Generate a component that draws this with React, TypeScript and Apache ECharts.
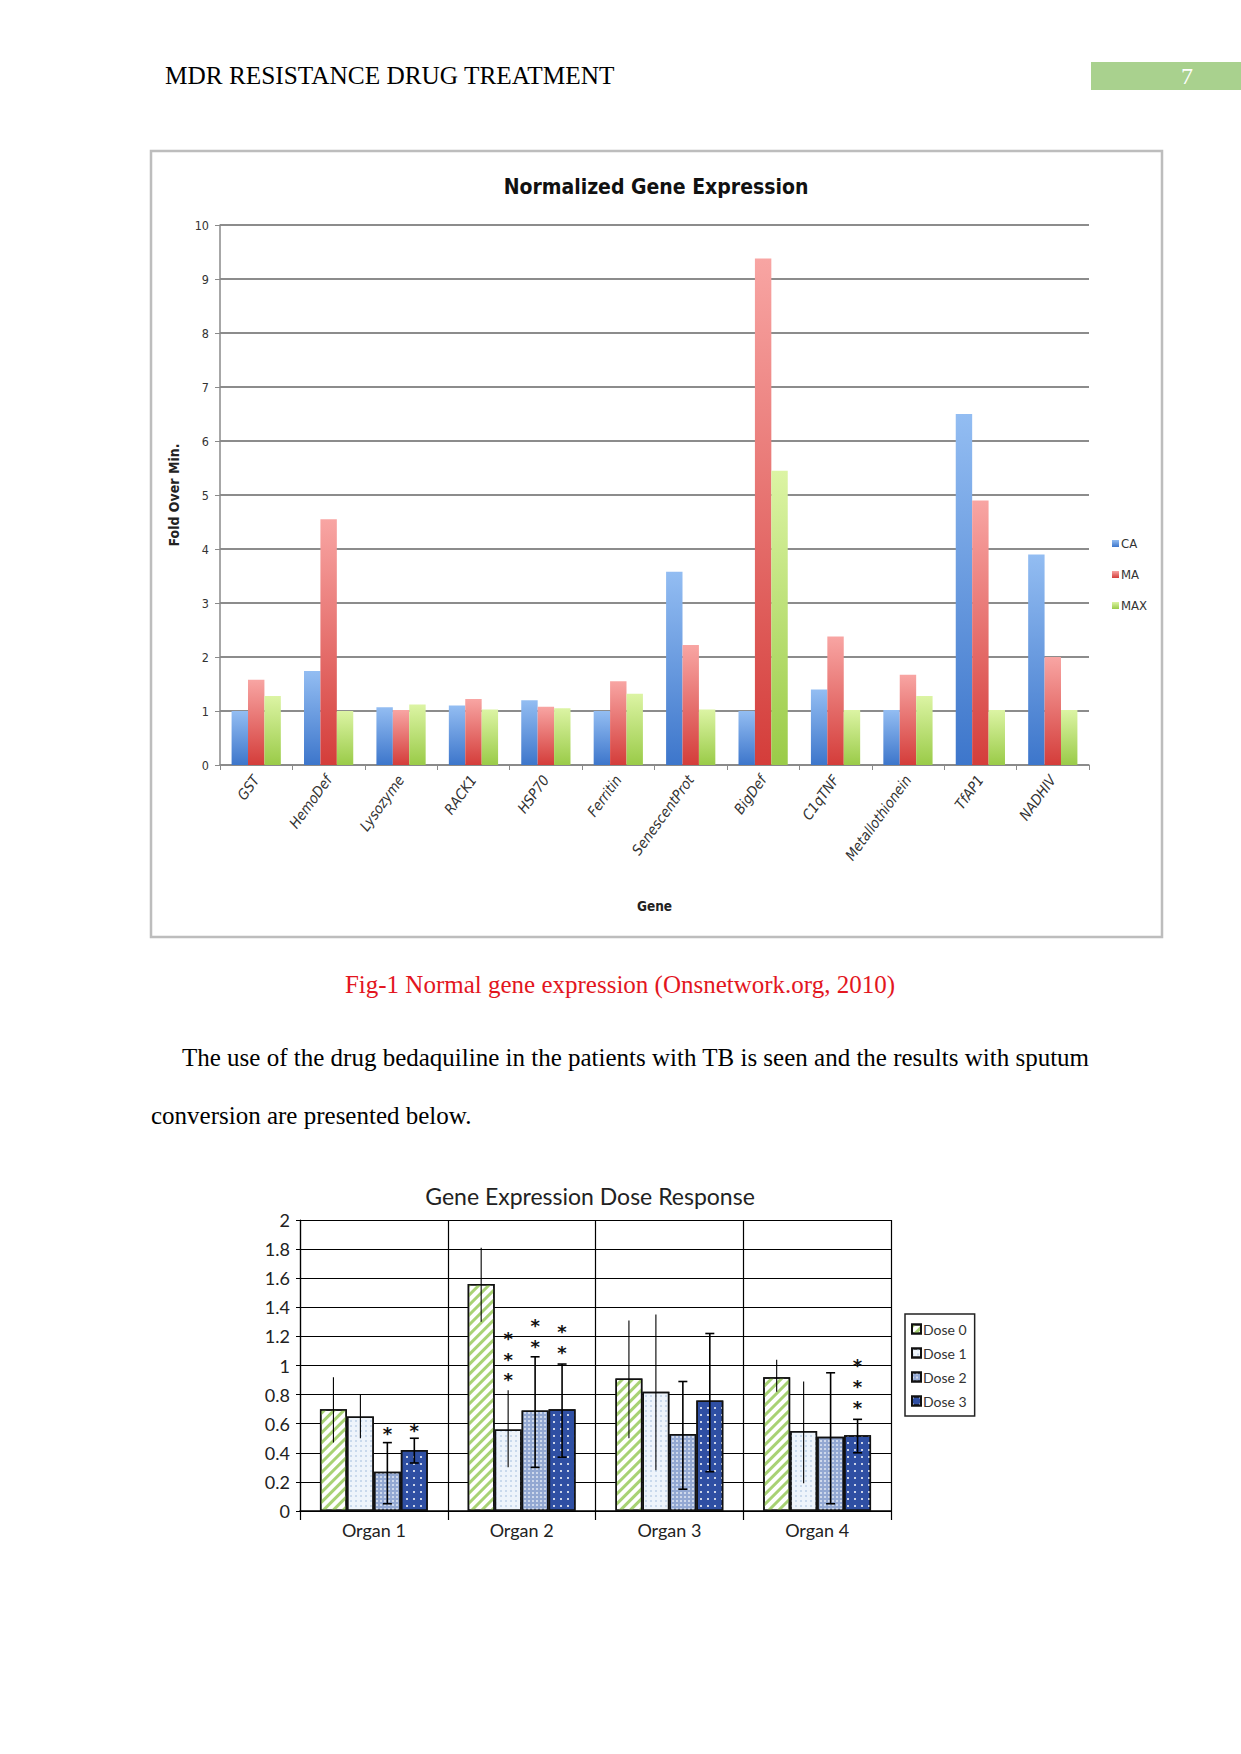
import React, { useEffect, useRef } from "react";
import * as echarts from "echarts";

// ---------- Chart 1 data ----------
const genes = ["GST", "HemoDef", "Lysozyme", "RACK1", "HSP70", "Ferritin", "SenescentProt", "BigDef", "C1qTNF", "Metallothionein", "TfAP1", "NADHIV"];
const caValues = [1.0, 1.74, 1.07, 1.1, 1.2, 1.0, 3.58, 1.0, 1.4, 1.02, 6.5, 3.9];
const maValues = [1.58, 4.55, 1.02, 1.22, 1.08, 1.55, 2.22, 9.38, 2.38, 1.67, 4.9, 2.0];
const maxValues = [1.28, 1.0, 1.12, 1.03, 1.05, 1.32, 1.03, 5.45, 1.02, 1.28, 1.02, 1.02];

// ---------- Chart 2 data ----------
const organs = ["Organ 1", "Organ 2", "Organ 3", "Organ 4"];
const doseNames = ["Dose 0", "Dose 1", "Dose 2", "Dose 3"];
const dose0 = [0.7, 1.56, 0.91, 0.92];
const dose1 = [0.65, 0.56, 0.82, 0.55];
const dose2 = [0.27, 0.69, 0.53, 0.51];
const dose3 = [0.42, 0.7, 0.76, 0.52];
const dose0Low = [0.47, 1.3, 0.5, 0.82];
const dose0High = [0.92, 1.81, 1.31, 1.04];
const dose1Low = [0.5, 0.3, 0.28, 0.19];
const dose1High = [0.8, 0.83, 1.35, 0.89];
const dose2Low = [0.05, 0.3, 0.15, 0.05];
const dose2High = [0.47, 1.06, 0.89, 0.95];
const dose3Low = [0.33, 0.37, 0.27, 0.4];
const dose3High = [0.5, 1.01, 1.22, 0.63];
// significance asterisks: [organ index, value position]
const starsDose1 = [[1, 1.21], [1, 1.07], [1, 0.93]];
const starsDose2 = [[0, 0.56], [1, 1.3], [1, 1.16]];
const starsDose3 = [[0, 0.58], [1, 1.26], [1, 1.12], [3, 1.03], [3, 0.88], [3, 0.74]];

const FONT_SERIF = "'Liberation Serif', 'Times New Roman', serif";
const FONT_NARROW = "'Liberation Sans Narrow', 'DejaVu Sans Condensed', Lato, sans-serif";
const FONT2 = "Lato, 'Open Sans', sans-serif";

const BAR_GAP2 = 0.27;

export default function App() {
  const ref = useRef<HTMLDivElement>(null);

  useEffect(() => {
    const chart = echarts.init(ref.current!, null, { renderer: "svg" });
    const grad = (top: string, bottom: string) =>
      new echarts.graphic.LinearGradient(0, 0, 0, 1, [
        { offset: 0, color: top },
        { offset: 1, color: bottom },
      ]);

    const lows = [dose0Low, dose1Low, dose2Low, dose3Low];
    const highs = [dose0High, dose1High, dose2High, dose3High];
    const errData: number[][] = [];
    lows.forEach((arr, d) => arr.forEach((lo, i) => errData.push([i, lo, highs[d][i], d])));
    const starData: number[][] = [];
    [[], starsDose1, starsDose2, starsDose3].forEach((arr, d) =>
      (arr as number[][]).forEach((s) => starData.push([s[0], s[1], d]))
    );

    const doseStyles = [
      {
        color: "#ffffff",
        decal: { symbol: "rect", symbolSize: 1, color: "#a8d274", dashArrayX: [1, 0], dashArrayY: [3, 4], rotation: -Math.PI / 4 },
      },
      {
        color: "#eef4fb",
        decal: { symbol: "rect", symbolSize: 1, color: "#c9d9ec", dashArrayX: [2, 3], dashArrayY: [2, 3], rotation: 0 },
      },
      {
        color: "#93a8d2",
        decal: { symbol: "rect", symbolSize: 1, color: "rgba(255,255,255,0.55)", dashArrayX: [2, 2], dashArrayY: [2, 2], rotation: 0 },
      },
      {
        color: "#2f4fa3",
        decal: { symbol: "rect", symbolSize: 1, color: "rgba(255,255,255,0.75)", dashArrayX: [2, 5], dashArrayY: [2, 5], rotation: 0 },
      },
    ];
    const doseData = [dose0, dose1, dose2, dose3];

    const barOffset = (api: any, d: number) => {
      const band = api.size([1, 0])[0];
      const w = (band * (1 - BAR_GAP2)) / 4;
      return (d - 1.5) * w;
    };

    const option: any = {
      animation: false,
      backgroundColor: "#ffffff",
      grid: [
        { left: 220, top: 225, width: 869, height: 540 },
        { left: 300, top: 1220, width: 591, height: 291 },
      ],
      legend: [
        {
          data: ["CA", "MA", "MAX"],
          orient: "vertical",
          left: 1107,
          top: 532,
          itemWidth: 7,
          itemHeight: 7,
          itemGap: 18,
          icon: "rect",
          textStyle: { fontSize: 13, fontFamily: FONT_NARROW, color: "#333", padding: [0, 0, 0, -3] },
        },
        {
          data: doseNames,
          orient: "vertical",
          left: 905,
          top: 1314,
          itemWidth: 9,
          itemHeight: 9,
          itemGap: 10,
          icon: "rect",
          borderColor: "#222",
          borderWidth: 1.5,
          padding: [8, 8, 8, 6],
          textStyle: { fontSize: 14, fontFamily: FONT2, color: "#333", padding: [0, 0, 0, -3] },
        },
      ],
      xAxis: [
        {
          gridIndex: 0,
          type: "category",
          data: genes,
          axisLine: { lineStyle: { color: "#8a8a8a", width: 1.5 } },
          axisTick: { show: true, length: 5, lineStyle: { color: "#8a8a8a" } },
          axisLabel: { rotate: 54, interval: 0, margin: 12, fontSize: 14.5, fontStyle: "italic", fontFamily: FONT_NARROW, color: "#333" },
          name: "Gene",
          nameLocation: "middle",
          nameGap: 134,
          nameTextStyle: { fontSize: 13.5, fontWeight: "bold", fontFamily: FONT_NARROW, color: "#222" },
        },
        {
          gridIndex: 1,
          type: "category",
          data: organs,
          axisLine: { lineStyle: { color: "#000", width: 1.5 } },
          axisTick: { show: true, length: 9, lineStyle: { color: "#000", width: 1.2 } },
          splitLine: { show: true, lineStyle: { color: "#000", width: 1.2 } },
          axisLabel: { fontSize: 18, fontFamily: FONT2, color: "#222", margin: 10 },
        },
      ],
      yAxis: [
        {
          gridIndex: 0,
          type: "value",
          min: 0,
          max: 10,
          interval: 1,
          axisLine: { show: true, lineStyle: { color: "#8a8a8a", width: 1.5 } },
          axisTick: { show: true, length: 5, lineStyle: { color: "#8a8a8a" } },
          splitLine: { lineStyle: { color: "#8c8c8c", width: 2 } },
          axisLabel: { fontSize: 12.5, fontFamily: FONT_NARROW, color: "#333", margin: 11 },
          name: "Fold Over Min.",
          nameLocation: "middle",
          nameGap: 39,
          nameTextStyle: { fontSize: 14, fontWeight: "bold", fontFamily: FONT_NARROW, color: "#222" },
        },
        {
          gridIndex: 1,
          type: "value",
          min: 0,
          max: 2,
          interval: 0.2,
          axisLine: { show: true, lineStyle: { color: "#000", width: 1.2 } },
          axisTick: { show: true, length: 4, lineStyle: { color: "#000" } },
          splitLine: { lineStyle: { color: "#000", width: 1.2 } },
          axisLabel: { fontSize: 18, fontFamily: FONT2, color: "#222", margin: 10 },
        },
      ],
      series: [
        {
          name: "CA",
          type: "bar",
          xAxisIndex: 0,
          yAxisIndex: 0,
          data: caValues,
          barGap: "0%",
          barCategoryGap: "32%",
          itemStyle: { color: grad("#93bdf2", "#3d76cb") },
        },
        {
          name: "MA",
          type: "bar",
          xAxisIndex: 0,
          yAxisIndex: 0,
          data: maValues,
          itemStyle: { color: grad("#f8a5a3", "#d43d3a") },
        },
        {
          name: "MAX",
          type: "bar",
          xAxisIndex: 0,
          yAxisIndex: 0,
          data: maxValues,
          itemStyle: { color: grad("#dcf4a4", "#9acb48") },
        },
        ...doseNames.map((name, d) => ({
          name,
          type: "bar",
          xAxisIndex: 1,
          yAxisIndex: 1,
          data: doseData[d],
          barGap: "0%",
          barCategoryGap: BAR_GAP2 * 100 + "%",
          itemStyle: { color: doseStyles[d].color, borderColor: "#111", borderWidth: 1.5, decal: doseStyles[d].decal },
        })),
        {
          type: "custom",
          xAxisIndex: 1,
          yAxisIndex: 1,
          z: 10,
          silent: true,
          data: errData,
          encode: { x: 0, y: [1, 2] },
          renderItem: (params: any, api: any) => {
            const cat = api.value(0);
            const d = api.value(3);
            const x = api.coord([cat, 0])[0] + barOffset(api, d);
            const yLo = api.coord([cat, api.value(1)])[1];
            const yHi = api.coord([cat, api.value(2)])[1];
            const lw = d >= 2 ? 1.6 : 1.1;
            const children: any[] = [
              { type: "line", shape: { x1: x, y1: yLo, x2: x, y2: yHi }, style: { stroke: "#000", lineWidth: lw } },
            ];
            if (d >= 2) {
              children.push({ type: "line", shape: { x1: x - 4.5, y1: yHi, x2: x + 4.5, y2: yHi }, style: { stroke: "#000", lineWidth: 1.6 } });
              children.push({ type: "line", shape: { x1: x - 4.5, y1: yLo, x2: x + 4.5, y2: yLo }, style: { stroke: "#000", lineWidth: 1.6 } });
            }
            return { type: "group", children };
          },
        },
        {
          type: "custom",
          xAxisIndex: 1,
          yAxisIndex: 1,
          z: 11,
          silent: true,
          data: starData,
          encode: { x: 0, y: 1 },
          renderItem: (params: any, api: any) => {
            const cat = api.value(0);
            const d = api.value(2);
            const x = api.coord([cat, 0])[0] + barOffset(api, d);
            const y = api.coord([cat, api.value(1)])[1];
            return {
              type: "text",
              x,
              y: y + 4,
              style: {
                text: "*",
                fontSize: 18,
                lineHeight: 12,
                fontWeight: "bold",
                fontFamily: "'DejaVu Sans', sans-serif",
                fill: "#111",
                align: "center",
                verticalAlign: "middle",
              },
            };
          },
        },
      ],
      graphic: [
        {
          type: "text",
          x: 165,
          y: 75,
          style: { text: "MDR RESISTANCE DRUG TREATMENT", fontSize: 25.3, fontFamily: FONT_SERIF, fill: "#000", align: "left", verticalAlign: "middle" },
        },
        { type: "rect", shape: { x: 1091, y: 62, width: 150, height: 28 }, style: { fill: "#a9d18e" } },
        {
          type: "text",
          x: 1187,
          y: 76,
          style: { text: "7", fontSize: 24, fontFamily: FONT_SERIF, fill: "#ffffff", align: "center", verticalAlign: "middle" },
        },
        { type: "rect", shape: { x: 151, y: 151, width: 1011, height: 786 }, style: { fill: "none", stroke: "#bdbdbd", lineWidth: 2.5 } },
        {
          type: "text",
          x: 656,
          y: 187,
          style: { text: "Normalized Gene Expression", fontSize: 21, fontWeight: "bold", fontFamily: FONT_NARROW, fill: "#111", align: "center", verticalAlign: "middle" },
        },
        {
          type: "text",
          x: 620,
          y: 984,
          style: { text: "Fig-1 Normal gene expression (Onsnetwork.org, 2010)", fontSize: 25, fontFamily: FONT_SERIF, fill: "#e3161e", align: "center", verticalAlign: "middle" },
        },
        {
          type: "text",
          x: 182,
          y: 1057,
          style: { text: "The use of the drug bedaquiline in the patients with TB is seen and the results with sputum", fontSize: 25, fontFamily: FONT_SERIF, fill: "#000", align: "left", verticalAlign: "middle" },
        },
        {
          type: "text",
          x: 151,
          y: 1115,
          style: { text: "conversion are presented below.", fontSize: 25, fontFamily: FONT_SERIF, fill: "#000", align: "left", verticalAlign: "middle" },
        },
        {
          type: "text",
          x: 590,
          y: 1196,
          style: { text: "Gene Expression Dose Response", fontSize: 23, fontFamily: FONT2, fill: "#222", align: "center", verticalAlign: "middle" },
        },
      ],
    };

    chart.setOption(option);
    return () => chart.dispose();
  }, []);

  return (
    <div
      ref={ref}
      style={{ position: "absolute", left: 0, top: 0, width: 1241, height: 1754, background: "#ffffff" }}
    />
  );
}
